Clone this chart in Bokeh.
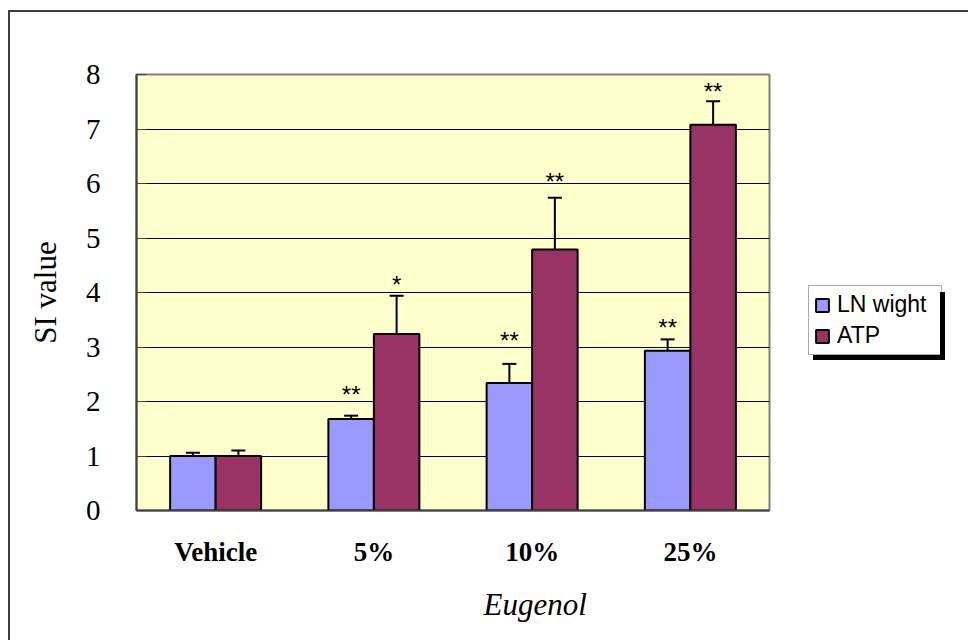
from bokeh.plotting import figure
from bokeh.models import (ColumnDataSource, FactorRange, Range1d, Whisker, TeeHead,
                          Legend, LegendItem, Title, SingleIntervalTicker, InlineStyleSheet)
from bokeh.transform import dodge
from bokeh.core.properties import value
from bokeh.embed import file_html
from bokeh.resources import INLINE

# ---- data ----
categories = ["Vehicle", "5%", "10%", "25%"]
ln_wight = [1.00, 1.68, 2.34, 2.93]
ln_err = [0.06, 0.06, 0.35, 0.21]
atp = [1.00, 3.24, 4.79, 7.08]
atp_err = [0.10, 0.70, 0.95, 0.43]
ln_stars = ["", "**", "**", "**"]
atp_stars = ["", "*", "**", "**"]
ln_star_y = [0.0, 2.12, 3.12, 3.36]
atp_star_y = [0.0, 4.15, 6.04, 7.68]

src = ColumnDataSource(dict(
    cat=categories,
    ln=ln_wight,
    ln_up=[v + e for v, e in zip(ln_wight, ln_err)],
    atp=atp,
    atp_up=[v + e for v, e in zip(atp, atp_err)],
    ln_s=ln_stars, atp_s=atp_stars,
    ln_sy=ln_star_y, atp_sy=atp_star_y,
))

p = figure(x_range=FactorRange(*categories, range_padding=0), y_range=Range1d(0, 8),
           frame_width=633, frame_height=436, output_backend="svg", toolbar_location=None,
           min_border_left=126, min_border_top=62, min_border_right=196, min_border_bottom=130)
p.styles = {"border-left": "2px solid #3c3c3c", "border-top": "2px solid #3c3c3c",
            "margin-top": "10px", "margin-left": "8px"}
# drop shadow of the legend box (5 px right / down)
p.stylesheets = [InlineStyleSheet(css=""":host { position: relative; }
:host::after { content: ''; position: absolute; left: 798px; top: 275px; width: 132px; height: 68px;
  box-shadow: 5px 5px 0 0 #000; pointer-events: none; }""")]

p.background_fill_color = "#FFFFCC"
p.border_fill_color = "white"
p.outline_line_color = "#808080"
p.outline_line_width = 2

off = 0.14375
bw = 0.2875
r1 = p.vbar(x=dodge("cat", -off, range=p.x_range), top="ln", width=bw, source=src,
            fill_color="#9999FF", line_color="black", line_width=2)
r2 = p.vbar(x=dodge("cat", off, range=p.x_range), top="atp", width=bw, source=src,
            fill_color="#993366", line_color="black", line_width=2)

for o, lo, up in [(-off, "ln", "ln_up"), (off, "atp", "atp_up")]:
    w = Whisker(base=dodge("cat", o, range=p.x_range), lower=lo, upper=up, source=src,
                line_color="black", line_width=2,
                upper_head=TeeHead(size=14, line_width=2, line_color="black"), lower_head=None)
    p.add_layout(w)

for o, t, y in [(-off, "ln_s", "ln_sy"), (off, "atp_s", "atp_sy")]:
    p.text(x=dodge("cat", o, range=p.x_range), y=y, text=t, source=src,
           text_font=value("Liberation Sans"), text_font_size="24px",
           text_align="center", text_baseline="alphabetic", text_color="black")

# axes
p.yaxis.ticker = SingleIntervalTicker(interval=1)
p.yaxis.major_label_text_font = "Liberation Serif"
p.yaxis.major_label_text_font_size = "29px"
p.yaxis.major_label_text_color = "black"
p.yaxis.major_label_standoff = 32
p.yaxis.major_tick_in = 10
p.yaxis.major_tick_out = 0
p.yaxis.major_tick_line_color = "#404040"
p.yaxis.minor_tick_line_color = None
p.yaxis.axis_line_color = "#404040"
p.yaxis.axis_line_width = 2
p.yaxis.axis_label = "SI value"
p.yaxis.axis_label_text_font = "Liberation Serif"
p.yaxis.axis_label_text_font_size = "31px"
p.yaxis.axis_label_text_font_style = "normal"
p.yaxis.axis_label_text_color = "black"
p.yaxis.axis_label_standoff = 20

p.xaxis.major_label_text_font = "Liberation Serif"
p.xaxis.major_label_text_font_size = "27px"
p.xaxis.major_label_text_font_style = "bold"
p.xaxis.major_label_text_color = "black"
p.xaxis.major_label_standoff = 20
p.xaxis.major_tick_line_color = None
p.xaxis.axis_line_color = "#404040"
p.xaxis.axis_line_width = 2

p.xgrid.grid_line_color = None
p.ygrid.grid_line_color = "black"
p.ygrid.grid_line_width = 1

eug = Title(text="Eugenol", align="left", offset=347, standoff=30,
            text_font="Liberation Serif", text_font_style="italic", text_font_size="31px",
            text_color="black")
p.add_layout(eug, "below")

legend = Legend(items=[LegendItem(label="LN wight", renderers=[r1]),
                       LegendItem(label="ATP", renderers=[r2])],
                location=(39, 155), padding=5, spacing=4, margin=0,
                label_text_font="Liberation Sans", label_text_font_size="23px",
                label_text_color="black", label_height=27, label_width=99,
                glyph_height=16, glyph_width=16, label_standoff=7,
                border_line_color="#555555", border_line_width=1.5,
                background_fill_color="white", background_fill_alpha=1)
p.add_layout(legend, "right")

open("out.html", "w").write(file_html(p, INLINE))
